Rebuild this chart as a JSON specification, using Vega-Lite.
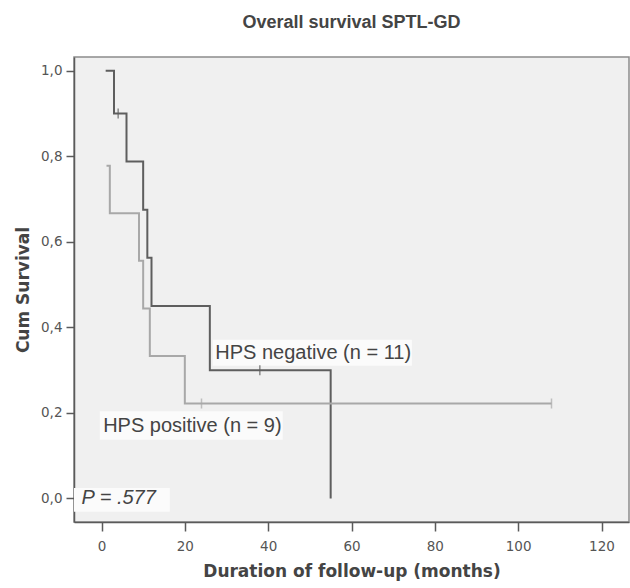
{
  "$schema": "https://vega.github.io/schema/vega-lite/v6.json",
  "width": 555,
  "height": 465,
  "autosize": {"type": "none"},
  "padding": {"left": 74, "top": 57, "right": 1, "bottom": 66},
  "background": "#ffffff",
  "title": {
    "text": "Overall survival SPTL-GD",
    "font": "Liberation Sans",
    "fontSize": 18,
    "fontWeight": "bold",
    "color": "#444444",
    "anchor": "middle",
    "offset": 25
  },
  "config": {
    "view": {"fill": "#f0f0f0", "stroke": "#8c8c8c", "strokeWidth": 1.5},
    "axis": {
      "grid": false,
      "domainColor": "#5a5a5a",
      "domainWidth": 1.5,
      "tickColor": "#5a5a5a",
      "tickWidth": 1.5,
      "labelFont": "DejaVu Sans",
      "labelFontSize": 13.5,
      "labelColor": "#555555",
      "titleFont": "DejaVu Sans",
      "titleFontSize": 17,
      "titleFontWeight": "bold",
      "titleColor": "#444444"
    }
  },
  "datasets": {
    "curves": [
      {"group": "HPS negative", "month": 1, "survival": 1.0},
      {"group": "HPS negative", "month": 3, "survival": 0.9},
      {"group": "HPS negative", "month": 6, "survival": 0.7875},
      {"group": "HPS negative", "month": 10, "survival": 0.675},
      {"group": "HPS negative", "month": 11, "survival": 0.5625},
      {"group": "HPS negative", "month": 12, "survival": 0.45},
      {"group": "HPS negative", "month": 26, "survival": 0.3},
      {"group": "HPS negative", "month": 55, "survival": 0.0},
      {"group": "HPS positive", "month": 1.2, "survival": 0.778},
      {"group": "HPS positive", "month": 2, "survival": 0.667},
      {"group": "HPS positive", "month": 9, "survival": 0.556},
      {"group": "HPS positive", "month": 10, "survival": 0.444},
      {"group": "HPS positive", "month": 11.6, "survival": 0.333},
      {"group": "HPS positive", "month": 20, "survival": 0.222},
      {"group": "HPS positive", "month": 108, "survival": 0.222}
    ],
    "censored": [
      {"group": "HPS negative", "month": 4, "survival": 0.9},
      {"group": "HPS negative", "month": 38, "survival": 0.3},
      {"group": "HPS positive", "month": 24, "survival": 0.222},
      {"group": "HPS positive", "month": 108, "survival": 0.222}
    ],
    "labels": [
      {"text": "HPS negative (n = 11)", "month": 27.3, "survival": 0.341, "x0": 26.7, "x1": 74.5, "y0": 0.31, "y1": 0.371},
      {"text": "HPS positive (n = 9)", "month": 0.4, "survival": 0.169, "x0": -0.4, "x1": 43.5, "y0": 0.137, "y1": 0.204}
    ],
    "pvalue": [
      {"text": "P =  .577", "month": -4.8, "survival": 0.0, "x0": -6.6, "x1": 16.4, "y0": -0.031, "y1": 0.0245}
    ]
  },
  "layer": [
    {
      "data": {"name": "labels"},
      "mark": {"type": "rect", "color": "#fbfbfb"},
      "encoding": {
        "x": {"field": "x0", "type": "quantitative"},
        "x2": {"field": "x1"},
        "y": {"field": "y0", "type": "quantitative"},
        "y2": {"field": "y1"}
      }
    },
    {
      "data": {"name": "pvalue"},
      "mark": {"type": "rect", "color": "#fbfbfb"},
      "encoding": {
        "x": {"field": "x0", "type": "quantitative"},
        "x2": {"field": "x1"},
        "y": {"field": "y0", "type": "quantitative"},
        "y2": {"field": "y1"}
      }
    },
    {
      "data": {"name": "curves"},
      "mark": {"type": "line", "interpolate": "step-after", "strokeWidth": 2},
      "encoding": {
        "x": {
          "field": "month",
          "type": "quantitative",
          "scale": {"domain": [-6.6, 126.6], "nice": false, "zero": false},
          "axis": {
            "title": "Duration of follow-up (months)",
            "values": [0, 20, 40, 60, 80, 100, 120],
            "tickSize": 9,
            "labelPadding": 8,
            "titlePadding": 11
          }
        },
        "y": {
          "field": "survival",
          "type": "quantitative",
          "scale": {"domain": [-0.055, 1.032], "nice": false, "zero": false},
          "axis": {
            "title": "Cum Survival",
            "values": [0, 0.2, 0.4, 0.6, 0.8, 1.0],
            "labelExpr": "replace(format(datum.value, '.1f'), '.', ',')",
            "tickSize": 8,
            "labelPadding": 4,
            "titlePadding": 8
          }
        },
        "color": {
          "field": "group",
          "type": "nominal",
          "scale": {"domain": ["HPS negative", "HPS positive"], "range": ["#5e5e5e", "#a8a8a8"]},
          "legend": null
        },
        "order": {"field": "month", "type": "quantitative"}
      }
    },
    {
      "data": {"name": "censored"},
      "mark": {"type": "tick", "orient": "vertical", "size": 10, "thickness": 1.5},
      "encoding": {
        "x": {"field": "month", "type": "quantitative"},
        "y": {"field": "survival", "type": "quantitative"},
        "color": {"field": "group", "type": "nominal", "legend": null}
      }
    },
    {
      "data": {"name": "labels"},
      "mark": {"type": "text", "align": "left", "baseline": "middle", "font": "Liberation Sans", "fontSize": 20, "color": "#444444"},
      "encoding": {
        "x": {"field": "month", "type": "quantitative"},
        "y": {"field": "survival", "type": "quantitative"},
        "text": {"field": "text"}
      }
    },
    {
      "data": {"name": "pvalue"},
      "mark": {"type": "text", "align": "left", "baseline": "middle", "font": "Liberation Sans", "fontSize": 20, "fontStyle": "italic", "color": "#444444"},
      "encoding": {
        "x": {"field": "month", "type": "quantitative"},
        "y": {"field": "survival", "type": "quantitative"},
        "text": {"field": "text"}
      }
    }
  ]
}
